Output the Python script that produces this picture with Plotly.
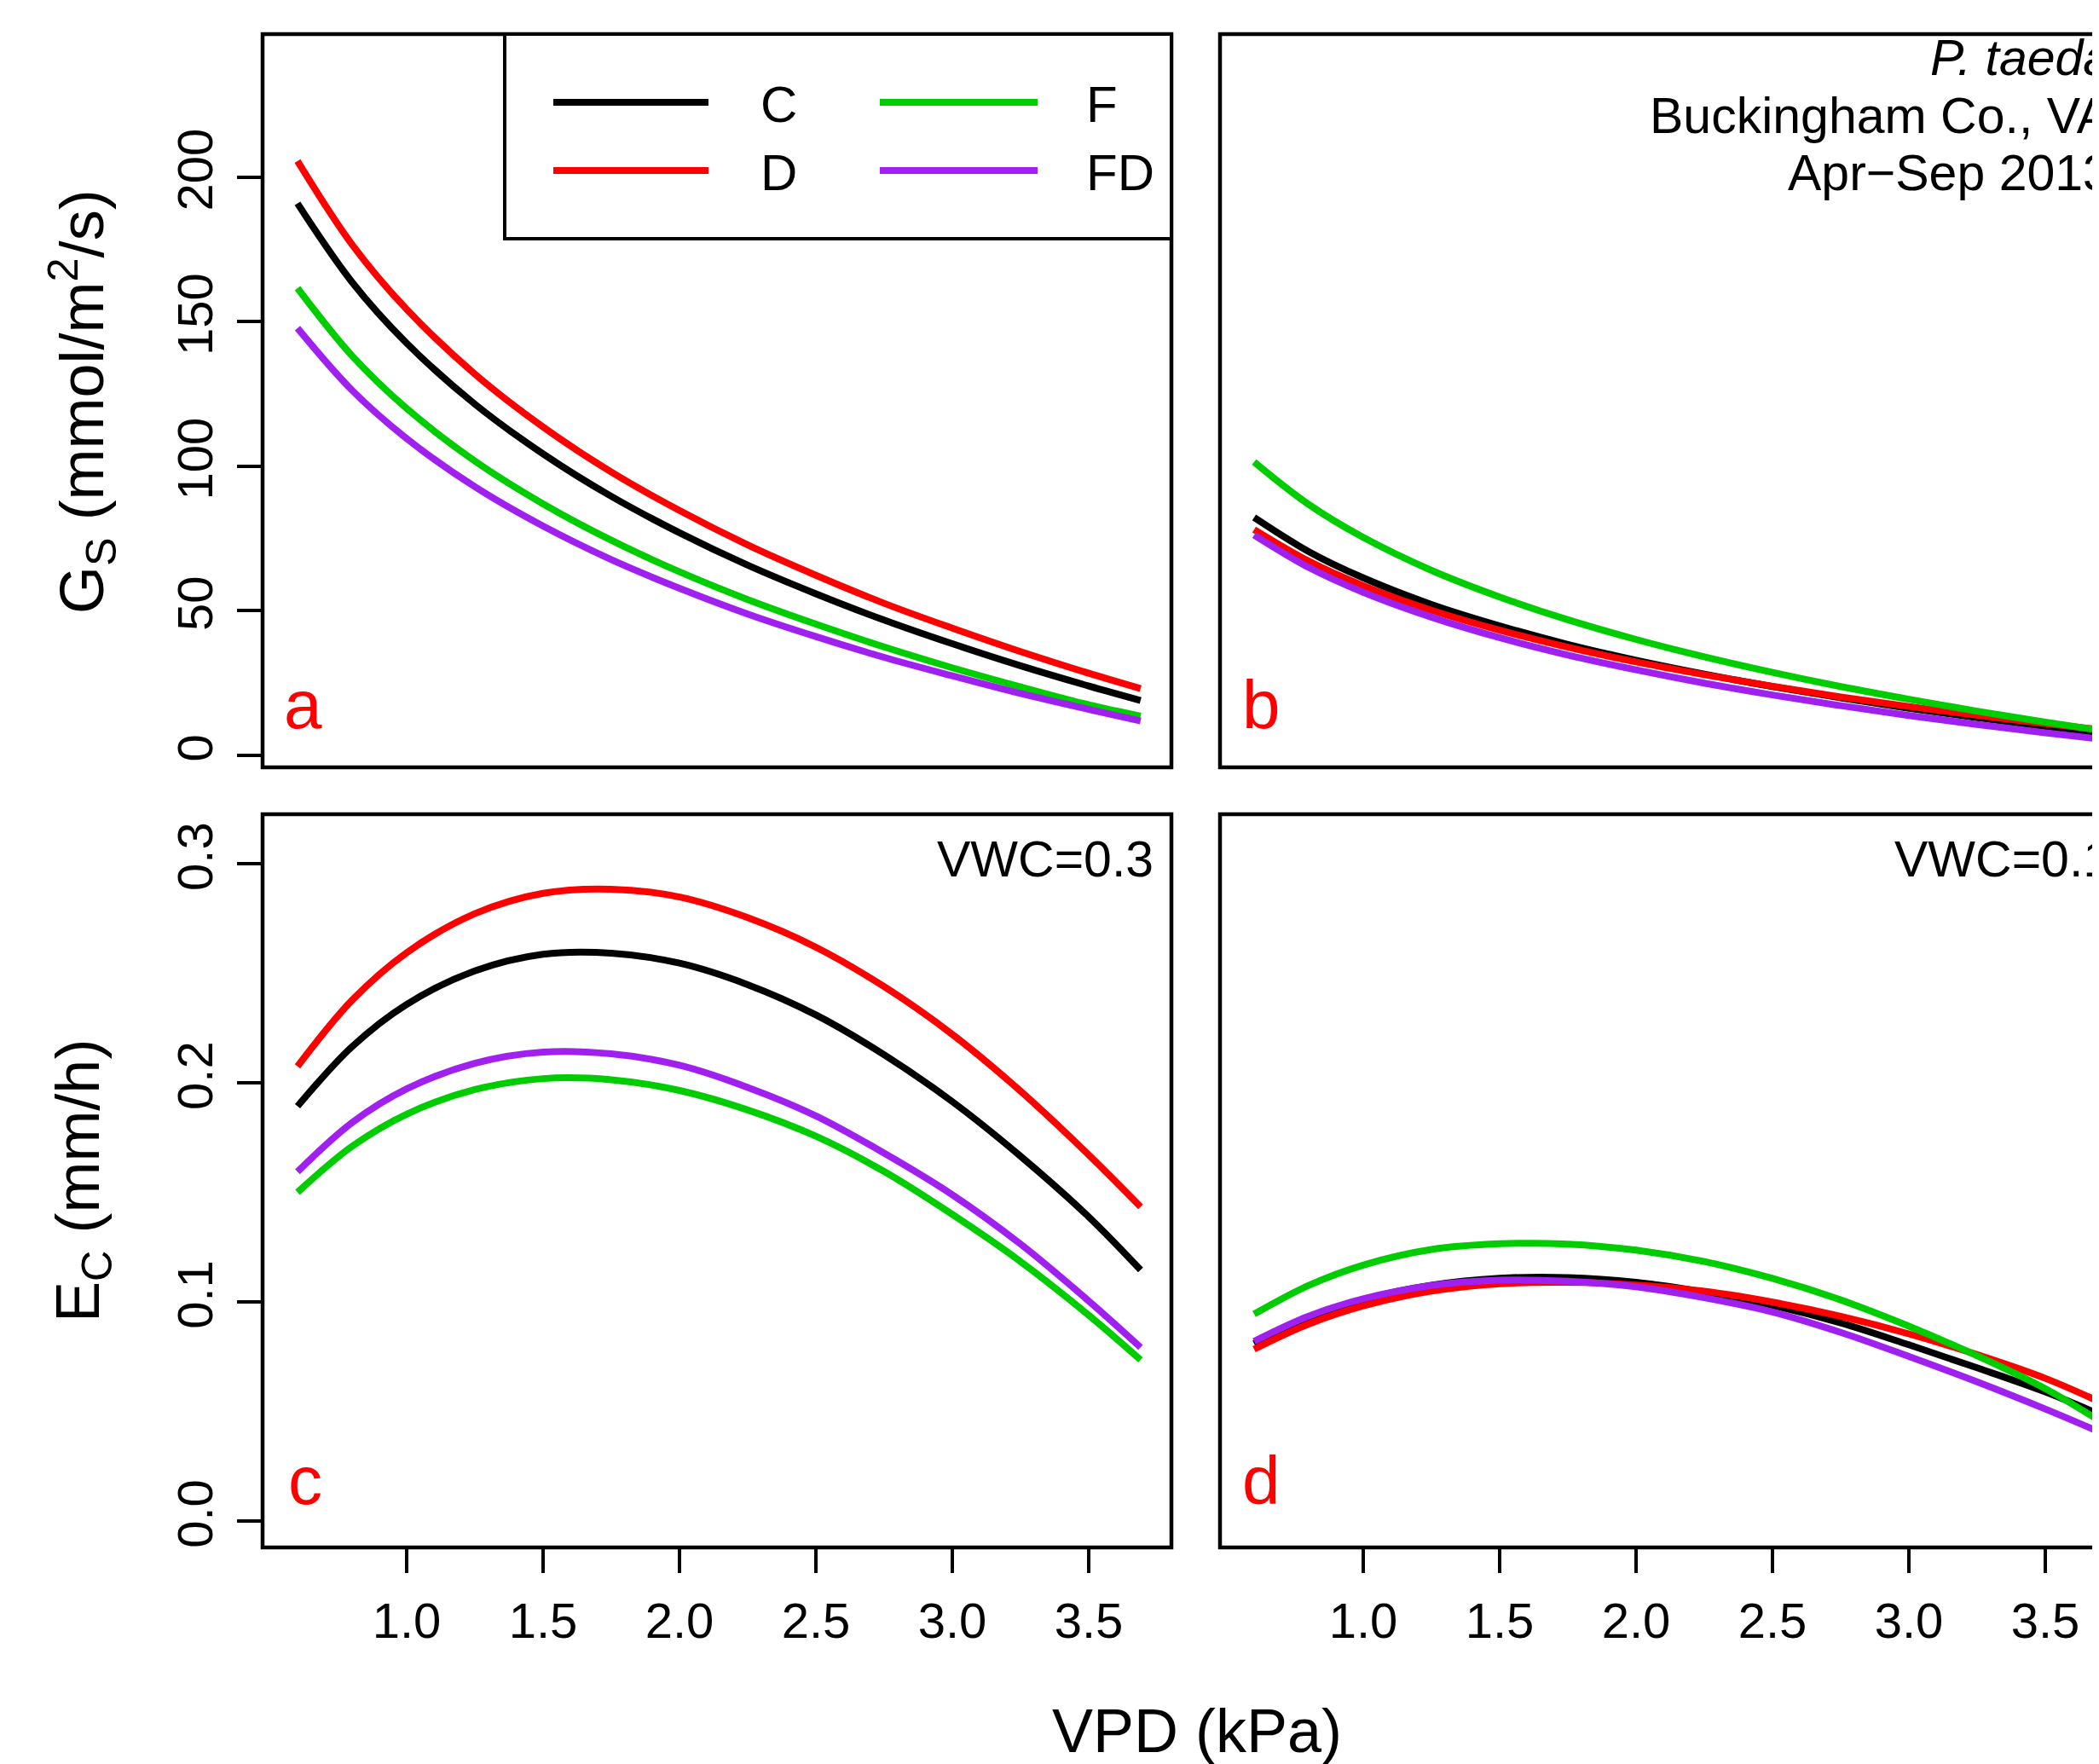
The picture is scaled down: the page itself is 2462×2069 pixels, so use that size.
import plotly.graph_objects as go

# ---------------- data ----------------
vpd = [0.6, 0.8, 1.0, 1.25, 1.5, 1.75, 2.0, 2.25, 2.5, 2.75, 3.0, 3.25, 3.5, 3.69]

# panel a: Gs, VWC=0.3
gs_a_C = [190.9, 163.7, 142.6, 121.5, 104.3, 89.6, 77.0, 65.8, 55.9, 46.8, 38.6, 31.0, 24.0, 19.0]
gs_a_D = [205.6, 176.7, 154.3, 131.9, 113.6, 98.0, 84.7, 72.8, 62.3, 52.6, 44.0, 35.9, 28.4, 23.1]
gs_a_F = [161.6, 138.2, 120.0, 101.8, 87.0, 74.4, 63.5, 53.9, 45.4, 37.5, 30.3, 23.7, 17.5, 13.6]
gs_a_FD = [147.8, 126.3, 109.6, 92.9, 79.3, 67.7, 57.8, 48.9, 41.1, 33.9, 27.5, 21.4, 15.9, 11.9]

# panel b: Gs, VWC=0.1
gs_b_C = [82.3, 70.5, 61.4, 52.2, 44.8, 38.4, 32.9, 28.1, 23.8, 19.9, 16.3, 13.0, 10.0, 7.8]
gs_b_D = [78.1, 67.2, 58.7, 50.2, 43.3, 37.4, 32.3, 27.9, 23.9, 20.2, 16.9, 13.9, 11.0, 9.0]
gs_b_F = [101.5, 86.8, 75.4, 64.0, 54.8, 46.9, 40.1, 34.1, 28.7, 23.8, 19.4, 15.3, 11.5, 8.8]
gs_b_FD = [76.2, 65.0, 56.4, 47.8, 40.7, 34.7, 29.6, 25.0, 20.9, 17.2, 13.8, 10.7, 7.8, 5.8]

# panel c: Ec, VWC=0.3
ec_c_C = [0.1894, 0.2166, 0.2359, 0.2512, 0.2588, 0.2593, 0.2547, 0.2449, 0.2311, 0.2129, 0.1915, 0.1666, 0.1389, 0.1147]
ec_c_D = [0.2076, 0.2378, 0.2595, 0.2773, 0.2866, 0.2885, 0.2849, 0.2755, 0.2620, 0.2440, 0.2222, 0.1963, 0.1672, 0.1435]
ec_c_F = [0.1501, 0.1711, 0.1858, 0.1970, 0.2020, 0.2015, 0.1966, 0.1877, 0.1757, 0.1596, 0.1400, 0.1185, 0.0940, 0.0736]
ec_c_FD = [0.1595, 0.1819, 0.1973, 0.2090, 0.2141, 0.2133, 0.2081, 0.1980, 0.1850, 0.1680, 0.1490, 0.1265, 0.1005, 0.0793]

# panel d: Ec, VWC=0.1
ec_d_C = [0.0810, 0.0931, 0.1012, 0.1077, 0.1109, 0.1112, 0.1090, 0.1045, 0.0985, 0.0905, 0.0805, 0.0700, 0.0590, 0.0492]
ec_d_D = [0.0785, 0.0900, 0.0983, 0.1050, 0.1084, 0.1090, 0.1078, 0.1050, 0.1000, 0.0935, 0.0855, 0.0760, 0.0652, 0.0550]
ec_d_F = [0.0945, 0.1076, 0.1169, 0.1240, 0.1266, 0.1265, 0.1237, 0.1185, 0.1108, 0.1010, 0.0890, 0.0755, 0.0605, 0.0465]
ec_d_FD = [0.0821, 0.0936, 0.1015, 0.1076, 0.1100, 0.1095, 0.1070, 0.1020, 0.0955, 0.0862, 0.0752, 0.0636, 0.0512, 0.0412]

treatments = ["C", "D", "F", "FD"]
colors = ["#000000", "#FF0000", "#00CD00", "#A020F0"]
gs_ticks = [0, 50, 100, 150, 200]
ec_ticks = [0.0, 0.1, 0.2, 0.3]
ec_tick_labels = ["0.0", "0.1", "0.2", "0.3"]
vpd_ticks = [1.0, 1.5, 2.0, 2.5, 3.0, 3.5]
vpd_tick_labels = ["1.0", "1.5", "2.0", "2.5", "3.0", "3.5"]

panels = [
    ("x", "y", [gs_a_C, gs_a_D, gs_a_F, gs_a_FD]),
    ("x2", "y2", [gs_b_C, gs_b_D, gs_b_F, gs_b_FD]),
    ("x3", "y3", [ec_c_C, ec_c_D, ec_c_F, ec_c_FD]),
    ("x4", "y4", [ec_d_C, ec_d_D, ec_d_F, ec_d_FD]),
]

# ---------------- layout geometry (screen pixels) ----------------
W, H = 2462, 2069
OFF = 8  # default page body margin
FONT = "Liberation Sans, Arial, sans-serif"


def fx(p):
    return (p - OFF) / W


def fy(p):
    return 1 - (p - OFF) / H


L1, R1 = 308, 1374
L2, R2 = 1431, 2500
T1, B1 = 40, 900
T2, B2 = 955, 1815

fig = go.Figure()
for xa, ya, series in panels:
    for name, col, vals in zip(treatments, colors, series):
        fig.add_trace(go.Scatter(
            x=vpd, y=vals, mode="lines", name=name,
            line=dict(color=col, width=8, shape="spline", smoothing=1.0),
            xaxis=xa, yaxis=ya, showlegend=False, hoverinfo="skip",
        ))

axis_common = dict(showgrid=False, zeroline=False, showline=False,
                   ticks="outside", ticklen=29, tickwidth=3.5, tickcolor="black",
                   tickfont=dict(family=FONT, size=58, color="black"))
no_ticks = {**axis_common, "ticks": ""}

xr_left = [0.472, 3.803]
xr_right = [0.475, 3.697 + OFF / 320.0]
yr_gs = [-4.14, 249.5]
yr_ec = [-0.012, 0.3227]

fig.update_layout(
    width=W, height=H, margin=dict(l=0, r=0, t=0, b=0),
    paper_bgcolor="white", plot_bgcolor="white",
    xaxis=dict(domain=[fx(L1), fx(R1)], range=xr_left, anchor="y",
               showticklabels=False, **no_ticks),
    xaxis2=dict(domain=[fx(L2), 1.0], range=xr_right, anchor="y2",
                showticklabels=False, **no_ticks),
    xaxis3=dict(domain=[fx(L1), fx(R1)], range=xr_left, anchor="y3",
                tickvals=vpd_ticks, ticktext=vpd_tick_labels, ticklabelstandoff=6,
                **axis_common),
    xaxis4=dict(domain=[fx(L2), 1.0], range=xr_right, anchor="y4",
                tickvals=vpd_ticks, ticktext=vpd_tick_labels, ticklabelstandoff=6,
                **axis_common),
    yaxis=dict(domain=[fy(B1), fy(T1)], range=yr_gs, anchor="x",
               tickvals=gs_ticks, tickangle=-90, ticklabelstandoff=6, **axis_common),
    yaxis2=dict(domain=[fy(B1), fy(T1)], range=yr_gs, anchor="x2",
                showticklabels=False, **no_ticks),
    yaxis3=dict(domain=[fy(B2), fy(T2)], range=yr_ec, anchor="x3",
                tickvals=ec_ticks, ticktext=ec_tick_labels, tickangle=-90,
                ticklabelstandoff=6, **axis_common),
    yaxis4=dict(domain=[fy(B2), fy(T2)], range=yr_ec, anchor="x4",
                showticklabels=False, **no_ticks),
)

shapes = []
for (l, t, r, b) in [(L1, T1, R1, B1), (L2, T1, R2, B1), (L1, T2, R1, B2), (L2, T2, R2, B2)]:
    shapes.append(dict(type="rect", xref="paper", yref="paper",
                       x0=fx(l), x1=fx(r), y0=fy(b), y1=fy(t),
                       line=dict(color="black", width=4.5), fillcolor="rgba(0,0,0,0)"))

# legend box
shapes.append(dict(type="rect", xref="paper", yref="paper",
                   x0=fx(592), x1=fx(R1), y0=fy(280), y1=fy(T1),
                   line=dict(color="black", width=4), fillcolor="white", layer="above"))
leg_pos = [(649, 831, 120, 890), (649, 831, 200, 890), (1032, 1217, 120, 1272), (1032, 1217, 200, 1272)]
annotations = []
for name, col, (lx0, lx1, ly, tx) in zip(treatments, colors, leg_pos):
    shapes.append(dict(type="line", xref="paper", yref="paper",
                       x0=fx(lx0), x1=fx(lx1), y0=fy(ly), y1=fy(ly),
                       line=dict(color=col, width=8), layer="above"))
    annotations.append(dict(text=name, xref="paper", yref="paper", x=fx(tx), y=fy(ly + 2),
                            xanchor="left", yanchor="middle", showarrow=False,
                            font=dict(family=FONT, size=60, color="black")))

fig.update_layout(shapes=shapes)


def note(text, x, y, size, xanchor="center", color="black", angle=0, italic=False):
    annotations.append(dict(text=text, xref="paper", yref="paper", x=fx(x), y=fy(y),
                            xanchor=xanchor, yanchor="middle", showarrow=False, textangle=angle,
                            font=dict(family=FONT, size=size, color=color,
                                      style="italic" if italic else "normal")))


note("P. taeda", 2478, 68, 59, xanchor="right", italic=True)
note("Buckingham Co., VA", 2478, 136, 59, xanchor="right")
note("Apr\u2212Sep 2013", 2478, 203, 59, xanchor="right")
note("VWC=0.3", 1355, 1008, 59, xanchor="right")
note("VWC=0.1", 2478, 1008, 59, xanchor="right")

note("a", 355, 826, 80, color="#FF0000")
note("b", 1479, 826, 80, color="#FF0000")
note("c", 358, 1736, 80, color="#FF0000")
note("d", 1479, 1736, 80, color="#FF0000")

note("G<sub>S</sub> (mmol/m<sup>2</sup>/s)", 96, 471, 72, angle=-90)
note("E<sub>C</sub> (mm/h)", 96, 1385, 72, angle=-90)
note("VPD (kPa)", 1404, 2030, 72)

fig.update_layout(annotations=annotations)

fig.write_html("out.html")
